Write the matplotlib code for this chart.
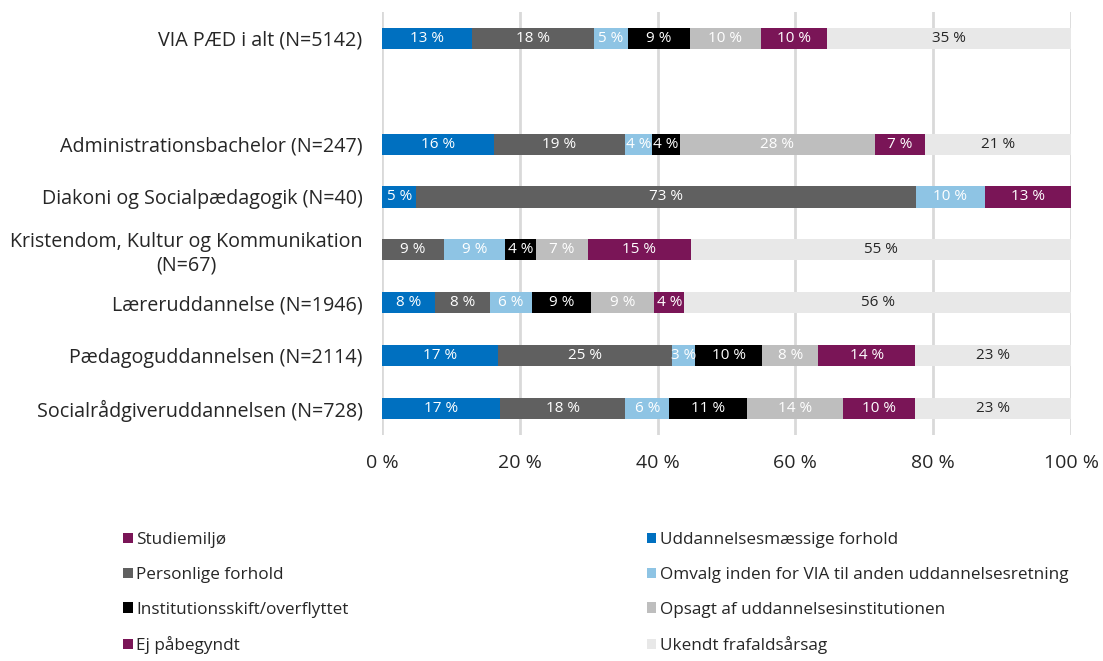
import matplotlib
matplotlib.use("Agg")
import matplotlib.pyplot as plt
import numpy as np

plt.rcParams['font.family'] = ['Open Sans', 'DejaVu Sans']

# categories, top to bottom ('' is the empty gap row)
categories = ['VIA PÆD i alt (N=5142)', '',
              'Administrationsbachelor (N=247)',
              'Diakoni og Socialpædagogik (N=40)',
              'Kristendom, Kultur og Kommunikation\n(N=67)',
              'Læreruddannelse (N=1946)',
              'Pædagoguddannelsen (N=2114)',
              'Socialrådgiveruddannelsen (N=728)']

series = ['Studiemiljø', 'Uddannelsesmæssige forhold', 'Personlige forhold',
          'Omvalg inden for VIA til anden uddannelsesretning',
          'Institutionsskift/overflyttet', 'Opsagt af uddannelsesinstitutionen',
          'Ej påbegyndt', 'Ukendt frafaldsårsag']

# percent per series, one value per category (gap row = 0)
studiemiljo = [0, 0, 0, 0, 0, 0, 0, 0]
uddannelse = [13.1, 0, 16.2, 5.0, 0, 7.7, 16.9, 17.2]
personlige = [17.6, 0, 19.0, 72.5, 8.96, 8.0, 25.2, 18.1]
omvalg = [5.0, 0, 4.0, 10.0, 8.96, 6.1, 3.3, 6.4]
institution = [9.0, 0, 4.0, 0, 4.48, 8.6, 9.8, 11.3]
opsagt = [10.3, 0, 28.3, 0, 7.46, 9.1, 8.1, 13.9]
ej_paabegyndt = [9.6, 0, 7.3, 12.5, 14.93, 4.4, 14.1, 10.4]
ukendt = [35.4, 0, 21.2, 0, 55.21, 56.1, 22.6, 22.7]

colors = ['#7A1557', '#0070C0', '#606060', '#8EC4E4', '#000000', '#BEBEBE',
          '#7A1557', '#E8E8E8']
label_colors = ['white', 'white', 'white', 'white', 'white', 'white', 'white', '#262626']

data = [studiemiljo, uddannelse, personlige, omvalg, institution, opsagt,
        ej_paabegyndt, ukendt]

fig = plt.figure(figsize=(11.03, 6.61), dpi=100)
ax = fig.add_axes([0.3463, 0.342, 0.6247, 0.640])

y = np.arange(len(categories))
left = np.zeros(len(categories))
handles = []
for name, vals, col, lcol in zip(series, data, colors, label_colors):
    vals = np.array(vals, dtype=float)
    bars = ax.barh(y, vals, left=left, height=0.4, color=col, label=name,
                   edgecolor='none', zorder=3)
    handles.append(bars)
    for b, v in zip(bars, vals):
        if v > 0:
            ax.text(b.get_x() + b.get_width() / 2, b.get_y() + b.get_height() / 2,
                    '%d %%' % int(v + 0.5), ha='center', va='center',
                    color=lcol, fontsize=11, zorder=4)
    left += vals

ax.set_ylim(len(categories) - 0.5, -0.5)
ax.set_xlim(0, 100)
ax.set_xticks([0, 20, 40, 60, 80, 100])
ax.set_xticklabels(['0 %', '20 %', '40 %', '60 %', '80 %', '100 %'])
ax.set_yticks(y)
ax.set_yticklabels(categories)
for lab in ax.get_yticklabels():
    lab.set_multialignment('center')
ax.tick_params(axis='y', length=0, pad=14, labelsize=14.2, labelcolor='#262626')
ax.tick_params(axis='x', length=0, pad=14, labelsize=14, labelcolor='#262626')
ax.grid(axis='x', color='#D9D9D9', linewidth=2, zorder=0)
for s in ax.spines.values():
    s.set_visible(False)

# legend filled row by row in the original (two columns)
order = [0, 2, 4, 6, 1, 3, 5, 7]
fig.legend([handles[i] for i in order], [series[i] for i in order],
           loc='upper left', bbox_to_anchor=(0.098, 0.218), ncol=2,
           frameon=False, fontsize=12.3, handlelength=0.55, handleheight=0.55,
           handletextpad=0.2, columnspacing=17.45, labelspacing=1.09,
           labelcolor='#262626')

fig.savefig('out.png', dpi=100)
